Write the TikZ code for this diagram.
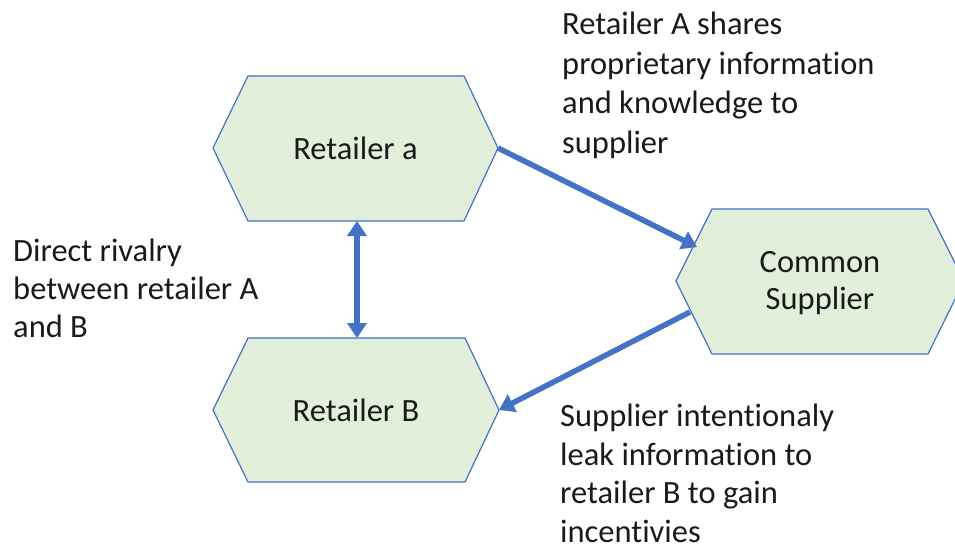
\documentclass[tikz,border=0pt]{standalone}
\usepackage{fontspec}
\setmainfont{Carlito}[Ligatures={NoCommon}]
\usetikzlibrary{arrows.meta}
\definecolor{hexfill}{HTML}{E2EFDA}
\definecolor{hexline}{HTML}{4472C4}
\definecolor{arrowblue}{HTML}{4472C4}
\definecolor{txt}{HTML}{1A1A1A}
\tikzset{
  hexshape/.style={draw=hexline, fill=hexfill, line width=1.2pt, line join=miter},
  hexlabel/.style={inner sep=0pt, text=txt, font=\fontsize{32.5}{37}\selectfont, align=center},
  note/.style={inner sep=0pt, text=txt, align=left, anchor=base west},
  conn/.style={draw=arrowblue, line width=5.5pt, -{Triangle[length=15pt,width=19pt]}},
  conn2/.style={draw=arrowblue, line width=5.5pt, {Triangle[length=15pt,width=19pt]}-{Triangle[length=15pt,width=19pt]}}
}
\begin{document}
\begin{tikzpicture}[x=1pt,y=-1pt]
\useasboundingbox (0,0) rectangle (955,552);
\begin{scope}
\clip (0,0) rectangle (955,552);
% Retailer a
\coordinate (ra-l) at (213,148);
\coordinate (ra-r) at (498,148);
\coordinate (ra-b) at (357,221);
\draw[hexshape] (ra-l) -- (248,76) -- (464,76) -- (ra-r) -- (464,221) -- (248,221) -- cycle;
\node[hexlabel] (ra) at (355.5,148) {Retailer a};
% Retailer B
\coordinate (rb-l) at (213,410);
\coordinate (rb-r) at (499,410);
\coordinate (rb-t) at (357,338);
\draw[hexshape] (rb-l) -- (248,338) -- (465,338) -- (rb-r) -- (465,482) -- (248,482) -- cycle;
\node[hexlabel] (rb) at (356,410) {Retailer B};
% Common Supplier
\coordinate (cs-l) at (676,281);
\coordinate (cs-in) at (697,247);
\coordinate (cs-out) at (690,312);
\draw[hexshape] (cs-l) -- (712,209) -- (928,209) -- (964,281) -- (928,354) -- (712,354) -- cycle;
\node[hexlabel] (cs) at (820,283) {Common\\Supplier};
\end{scope}
% connectors
\draw[conn] (ra-r) -- (cs-in);
\draw[conn] (cs-out) -- (rb-r);
\draw[conn2] (ra-b) -- (rb-t);
% notes
\node[note, font=\fontsize{32.5}{39.5}\selectfont] (n1) at (562,153) {Retailer A shares\\proprietary information\\and knowledge to\\supplier};
\node[note, font=\fontsize{32.5}{38}\selectfont] (n2) at (13,337) {Direct rivalry\\between retailer A\\and B};
\node[note, font=\fontsize{32.5}{38.5}\selectfont] (n3) at (560,542) {Supplier intentionaly\\leak information to\\retailer B to gain\\incentivies};
\end{tikzpicture}
\end{document}
